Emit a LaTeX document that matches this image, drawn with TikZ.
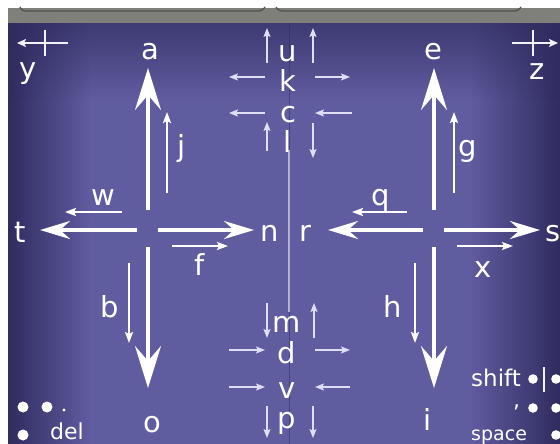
\documentclass[tikz,border=0pt]{standalone}
\usepackage{fontspec}
\setmainfont{DejaVu Sans}
\usetikzlibrary{arrows.meta,fadings}
\definecolor{bgedge}{RGB}{48,44,96}
\definecolor{bgmid}{RGB}{96,92,160}
\definecolor{graybar}{RGB}{128,128,122}
\definecolor{tabline}{RGB}{80,80,78}
\definecolor{arrowlav}{RGB}{222,222,244}
\tikzfading[name=fadeL, left color=transparent!0, right color=transparent!100]
\tikzfading[name=fadeR, left color=transparent!100, right color=transparent!0]
\tikzfading[name=fadeT, top color=transparent!0, bottom color=transparent!100]
\begin{document}
\begin{tikzpicture}[x=1pt,y=-1pt,
  lbl/.style={text=white,font=\fontsize{29}{30}\selectfont,anchor=base,inner sep=0pt},
  kbd/.style={text=white,font=\fontsize{22}{24}\selectfont,anchor=base west,inner sep=0pt},
  bigv/.style={white,line width=3.5pt,-{Stealth[length=42pt,width=26pt,inset=15pt]}},
  bigh/.style={white,line width=3.5pt,-{Stealth[length=30pt,width=18pt,inset=10pt]}},
  nearar/.style={white,line width=2pt,-{Stealth[length=11pt,width=8pt,inset=2pt]}},
  smallarr/.style={arrowlav,line width=1.6pt,-{Stealth[length=9pt,width=7pt,inset=2pt]}},
  crossln/.style={white!92!bgmid,line width=1.6pt},
  braille/.style={fill=white,draw=none},
]
\useasboundingbox (0,0) rectangle (560,444);
% background
\fill[white] (0,0) rectangle (560,444);
\fill[graybar] (8,8) rectangle (560,23);
\draw[tabline,line width=1.3pt,rounded corners=3pt] (20,7) -- (22,11) -- (262,11) -- (265,7);
\draw[tabline,line width=1.3pt,rounded corners=3pt] (276,7) -- (279,11) -- (518,11) -- (521,7);
\fill[bgmid] (8,23) rectangle (560,444);
\fill[bgedge,path fading=fadeL,fading transform={yscale=-1}] (8,23) rectangle (90,444);
\fill[bgedge,path fading=fadeR,fading transform={yscale=-1}] (470,23) rectangle (560,444);
\fill[bgedge,opacity=0.7,path fading=fadeT] (8,23) rectangle (560,100);
% center seam
\draw[bgedge,opacity=0.5,line width=1pt] (289,23) -- (289,444);
\draw[white,opacity=0.55,line width=1.5pt] (289,150) -- (289,312);

% ---------- left cross ----------
\coordinate (La1) at (148,210); \coordinate (La2) at (148,68);
\coordinate (Lo1) at (148,247); \coordinate (Lo2) at (148,388);
\coordinate (Lt1) at (137,230); \coordinate (Lt2) at (40,230);
\coordinate (Ln1) at (158,230); \coordinate (Ln2) at (254,230);
\draw[bigv] (La1) -- (La2);
\draw[bigv] (Lo1) -- (Lo2);
\draw[bigh] (Lt1) -- (Lt2);
\draw[bigh] (Ln1) -- (Ln2);
\coordinate (Lj1) at (167,193); \coordinate (Lj2) at (167,112);
\coordinate (Lw1) at (122,212); \coordinate (Lw2) at (65,212);
\coordinate (Lf1) at (172,246); \coordinate (Lf2) at (228,246);
\coordinate (Lb1) at (129,263); \coordinate (Lb2) at (129,343);
\draw[nearar] (Lj1) -- (Lj2);
\draw[nearar] (Lw1) -- (Lw2);
\draw[nearar] (Lf1) -- (Lf2);
\draw[nearar] (Lb1) -- (Lb2);

% ---------- right cross ----------
\coordinate (Re1) at (434,210); \coordinate (Re2) at (434,68);
\coordinate (Ri1) at (434,247); \coordinate (Ri2) at (434,388);
\coordinate (Rr1) at (423,230); \coordinate (Rr2) at (328,230);
\coordinate (Rs1) at (444,230); \coordinate (Rs2) at (540,230);
\draw[bigv] (Re1) -- (Re2);
\draw[bigv] (Ri1) -- (Ri2);
\draw[bigh] (Rr1) -- (Rr2);
\draw[bigh] (Rs1) -- (Rs2);
\coordinate (Rg1) at (454,193); \coordinate (Rg2) at (454,112);
\coordinate (Rq1) at (407,212); \coordinate (Rq2) at (352,212);
\coordinate (Rx1) at (457,246); \coordinate (Rx2) at (513,246);
\coordinate (Rh1) at (415,263); \coordinate (Rh2) at (415,343);
\draw[nearar] (Rg1) -- (Rg2);
\draw[nearar] (Rq1) -- (Rq2);
\draw[nearar] (Rx1) -- (Rx2);
\draw[nearar] (Rh1) -- (Rh2);

% ---------- corner crosses ----------
\coordinate (Y1) at (68,43); \coordinate (Y2) at (17,43);
\coordinate (Y3) at (45,30); \coordinate (Y4) at (45,56);
\draw[crossln,-{Stealth[length=9pt,width=8pt,inset=2pt]}] (Y1) -- (Y2);
\draw[crossln] (Y3) -- (Y4);
\coordinate (Z1) at (512,43); \coordinate (Z2) at (558,43);
\coordinate (Z3) at (533,30); \coordinate (Z4) at (533,56);
\draw[crossln,-{Stealth[length=9pt,width=8pt,inset=2pt]}] (Z1) -- (Z2);
\draw[crossln] (Z3) -- (Z4);

% ---------- upper centre group ----------
\draw[smallarr] (267,63) -- (267,28);
\draw[smallarr] (313,63) -- (313,28);
\draw[smallarr] (265,77) -- (229,77);
\draw[smallarr] (315,77) -- (350,77);
\draw[smallarr] (265,113) -- (229,113);
\draw[smallarr] (352,113) -- (315,113);
\draw[smallarr] (267,151) -- (267,122);
\draw[smallarr] (313,123) -- (313,158);
% ---------- lower centre group ----------
\draw[smallarr] (267,303) -- (267,338);
\draw[smallarr] (314,338) -- (314,303);
\draw[smallarr] (229,350) -- (265,350);
\draw[smallarr] (315,350) -- (350,350);
\draw[smallarr] (229,387) -- (265,387);
\draw[smallarr] (350,387) -- (315,387);
\draw[smallarr] (267,406) -- (267,438);
\draw[smallarr] (313,406) -- (313,438);

% ---------- labels ----------
\node[lbl] (a) at (150,60) {a};
\node[lbl] (y) at (28,79) {y};
\node[lbl] (e) at (433,60) {e};
\node[lbl] (z) at (537,80) {z};
\node[lbl] (u) at (288,62) {u};
\node[lbl] (k) at (288,92) {k};
\node[lbl] (c) at (288,122) {c};
\node[lbl] (l) at (288,152) {l};
\node[lbl] (j) at (182,157) {j};
\node[lbl] (g) at (468,157) {g};
\node[lbl] (w) at (103,205) {w};
\node[lbl] (q) at (381,205) {q};
\node[lbl] (t) at (20,242) {t};
\node[lbl] (n) at (270,241) {n};
\node[lbl] (r) at (305,241) {r};
\node[lbl] (s) at (553,241) {s};
\node[lbl] (f) at (200,275) {f};
\node[lbl] (x) at (483,277) {x};
\node[lbl] (b) at (110,317) {b};
\node[lbl] (h) at (393,317) {h};
\node[lbl] (m) at (287,332) {m};
\node[lbl] (d) at (287,363) {d};
\node[lbl] (v) at (287,398) {v};
\node[lbl] (p) at (287,428) {p};
\node[lbl] (o) at (152,432) {o};
\node[lbl] (i) at (428,430) {i};

% ---------- braille keys ----------
\fill[braille] (23,407) circle (5.5);
\fill[braille] (47,407) circle (5.5);
\fill[braille] (64,410) circle (1.6);
\fill[braille] (23,435) circle (5.5);
\node[kbd] (del) at (50,439) {del};

\node[kbd,font=\fontsize{23}{24}\selectfont] (shift) at (471,386) {shift};
\fill[braille] (533,379) circle (4.8);
\draw[crossln] (544,367) -- (544,392);
\fill[braille] (556,379) circle (4.8);
\node[kbd,text height=5pt,text depth=4pt] (comma) at (513,407) {,};
\fill[braille] (533,408) circle (4.8);
\fill[braille] (556,408) circle (4.8);
\node[kbd,font=\fontsize{19}{20}\selectfont] (space) at (471,440) {space};
\fill[braille] (556,435) circle (4.8);
\end{tikzpicture}
\end{document}
